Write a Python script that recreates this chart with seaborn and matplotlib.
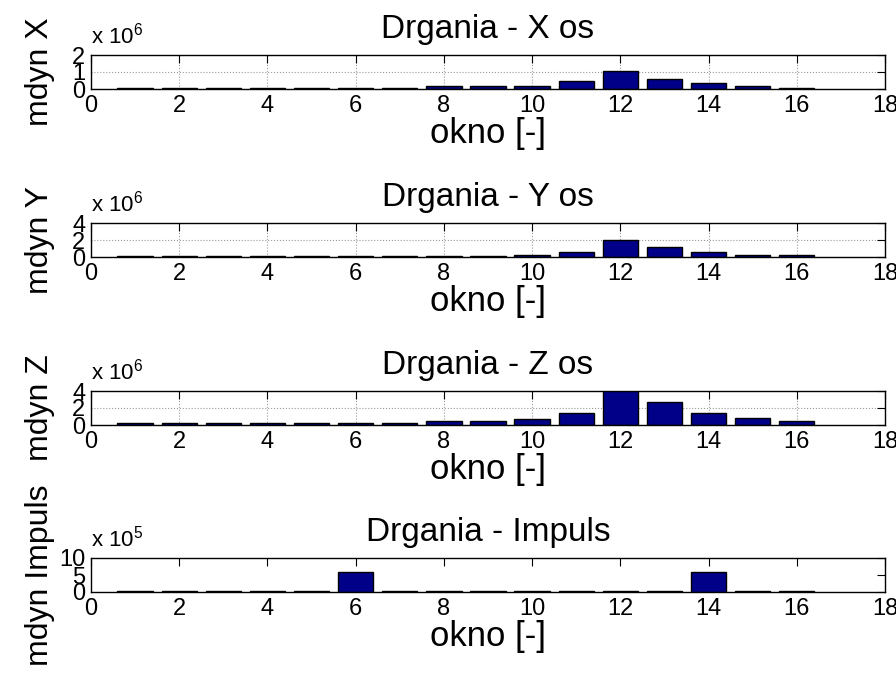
import numpy as np
import pandas as pd
import matplotlib
matplotlib.use("Agg")
import matplotlib.pyplot as plt
import seaborn as sns

# --- data ---
okno = list(range(1, 17))
drgania_x = [0.06, 0.06, 0.05, 0.05, 0.05, 0.05, 0.06, 0.17, 0.15, 0.15,
             0.48, 1.07, 0.57, 0.35, 0.15, 0.06]          # x 10^6
drgania_y = [0.15, 0.15, 0.15, 0.15, 0.15, 0.15, 0.15, 0.15, 0.15, 0.2,
             0.6, 2.0, 1.2, 0.6, 0.2, 0.2]                 # x 10^6
drgania_z = [0.2, 0.2, 0.2, 0.2, 0.2, 0.2, 0.2, 0.45, 0.45, 0.65,
             1.47, 4.1, 2.72, 1.43, 0.8, 0.45]             # x 10^6
drgania_imp = [0.3, 0.3, 0.3, 0.3, 0.3, 5.9, 0.3, 0.3, 0.3, 0.3,
               0.3, 0.3, 0.3, 5.9, 0.3, 0.3]               # x 10^5

panels = [
    ("Drgania - X os", "mdyn X", drgania_x, 6, [0, 1, 2], True),
    ("Drgania - Y os", "mdyn Y", drgania_y, 6, [0, 2, 4], True),
    ("Drgania - Z os", "mdyn Z", drgania_z, 6, [0, 2, 4], True),
    ("Drgania - Impuls", "mdyn Impuls", drgania_imp, 5, [0, 5, 10], False),
]

sns.set_theme(style="white")
plt.rcParams['font.family'] = ['Liberation Sans', 'DejaVu Sans']
plt.rcParams['mathtext.fontset'] = 'custom'
plt.rcParams['mathtext.rm'] = 'Liberation Sans'
plt.rcParams['mathtext.it'] = 'Liberation Sans'
plt.rcParams['text.color'] = 'black'
plt.rcParams['axes.labelcolor'] = 'black'
plt.rcParams['xtick.color'] = 'black'
plt.rcParams['ytick.color'] = 'black'

BAR_COLOR = '#000088'
W, H = 896, 675
fig = plt.figure(figsize=(W / 100, H / 100), dpi=100)
fig.patch.set_facecolor('white')

left_px, right_px = 91, 885
bottoms_px = [89, 257, 425, 592]
ax_h_px = 34
ax_w_px = right_px - left_px

for (title, ylab, vals, expo, yticks, grid), bot in zip(panels, bottoms_px):
    ax = fig.add_axes([left_px / W, 1 - bot / H, ax_w_px / W, ax_h_px / H])
    df = pd.DataFrame({"okno": okno, "val": vals})
    sns.barplot(data=df, x="okno", y="val", native_scale=True, width=0.8,
                color=BAR_COLOR, saturation=1, edgecolor='black', linewidth=1, ax=ax)
    ax.set_xlim(0, 18)
    ax.set_ylim(yticks[0], yticks[-1])
    ax.set_xticks(range(0, 19, 2))
    ax.set_yticks(yticks)
    ax.tick_params(direction='in', length=6, width=0.8, top=True, right=True,
                   labelsize=17, pad=4, color='black')
    for s in ax.spines.values():
        s.set_visible(True)
        s.set_color('black')
        s.set_linewidth(1)
    if grid:
        ax.grid(True, color='#999999', linestyle=':', linewidth=0.8)
    else:
        ax.grid(False)
    ax.set_axisbelow(True)
    ax.set_title(title, fontsize=24, pad=12)
    ax.set_xlabel("okno [-]", fontsize=25, labelpad=0)
    ax.set_ylabel(ylab, fontsize=23)
    ax.yaxis.set_label_coords(-36 / ax_w_px, 0.5)
    ax.text(0.0, 1.2, r"x 10$^{%d}$" % expo, transform=ax.transAxes,
            fontsize=16, ha='left', va='bottom')

fig.savefig("out.png", dpi=100, facecolor='white')
